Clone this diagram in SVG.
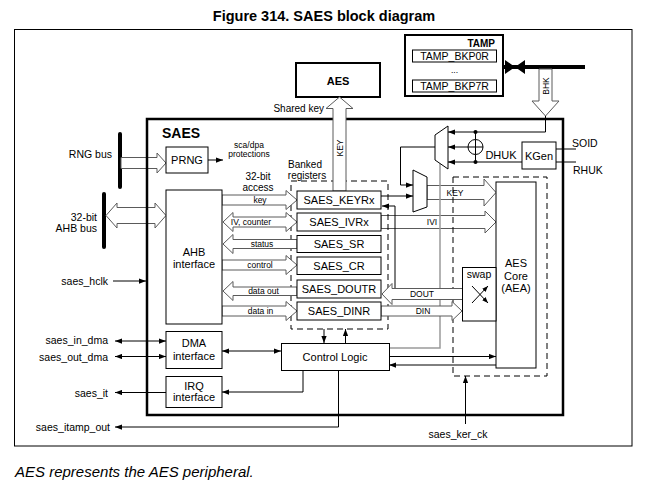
<svg xmlns="http://www.w3.org/2000/svg" width="649" height="489" viewBox="0 0 649 489">
<defs>
<marker id="a" viewBox="0 0 8 6" refX="8" refY="3" markerWidth="7" markerHeight="5.5" orient="auto-start-reverse" markerUnits="userSpaceOnUse"><path d="M0,0L8,3L0,6z" fill="#000"/></marker>
<marker id="a2" viewBox="0 0 8 6" refX="8" refY="3" markerWidth="6" markerHeight="5" orient="auto" markerUnits="userSpaceOnUse"><path d="M0,0L8,3L0,6z" fill="#000"/></marker>
</defs>
<style>
text{font-family:"Liberation Sans",Arial,sans-serif;fill:#000}
.b{fill:#fff;stroke:#000;stroke-width:1}
.tk{fill:#fff;stroke:#000;stroke-width:2}
.h{fill:#fff;stroke:#5a5a5a;stroke-width:1}
.l{fill:none;stroke:#000;stroke-width:1}
.g{fill:none;stroke:#9a9a9a;stroke-width:1.5}
.d{fill:none;stroke:#000;stroke-width:1;stroke-dasharray:6,4}
.bar{stroke:#000;stroke-width:4;stroke-linecap:round}
.s{font-size:8.5px}
.t{font-size:10px}
.m{font-size:10.5px}
.r{font-size:11px}
.c{text-anchor:middle}
.e{text-anchor:end}
.bd{font-weight:bold}
</style>

<text x="324" y="21" class="c bd" style="font-size:14.5px">Figure 314. SAES block diagram</text>
<rect x="14.5" y="29.5" width="617.5" height="416.5" fill="none" stroke="#000" stroke-width="1"/>

<g id="tamp">
<rect x="405" y="35" width="98" height="61" class="tk"/>
<text x="495" y="46.5" class="e bd t">TAMP</text>
<rect x="412.5" y="50" width="84" height="12" class="b"/>
<text x="454.5" y="59.5" class="c m">TAMP_BKP0R</text>
<text x="454.5" y="73" class="c s">...</text>
<rect x="412.5" y="80" width="84" height="12" class="b"/>
<text x="454.5" y="89.5" class="c m">TAMP_BKP7R</text>
</g>

<g id="aes">
<rect x="296" y="63" width="84" height="34" class="tk"/>
<text x="338" y="85" class="c bd r">AES</text>
</g>

<g id="buses">
<line x1="503" y1="67" x2="585" y2="67" stroke="#000" stroke-width="4"/>
<path d="M505,60L515,67L505,74z M525,60L515,67L525,74z" fill="#000"/>
<line x1="120" y1="134" x2="120" y2="187" class="bar"/>
<line x1="104" y1="194" x2="104" y2="247" class="bar"/>
</g>

<g id="connectors">
<polygon class="h" points="539,69 552,69 552,101 559,101 545.5,116 532,101 539,101"/>
<text transform="translate(548.5,86) rotate(-90)" class="c s">BHK</text>
<polygon class="h" points="121,157.5 157,157.5 157,153 166,163 157,173 157,168.5 121,168.5"/>
<polygon class="h" points="106,215.5 117,203 117,207.5 155,207.5 155,203 166,215.5 155,228 155,223.5 117,223.5 117,228"/>
<polygon class="h" points="427,185.5 484,185.5 484,179 496,192.5 484,206 484,199.5 427,199.5"/>
<text x="455" y="195.5" class="c s">KEY</text>
<polygon class="h" points="381,215.5 485,215.5 485,211 496,222 485,233 485,228.5 381,228.5"/>
<text x="432" y="225" class="c s">IVI</text>
</g>

<g id="saes">
<rect x="147" y="119" width="416" height="296" fill="none" stroke="#000" stroke-width="2.5"/>
<text x="162" y="138" class="bd" style="font-size:14px">SAES</text>
</g>

<g id="banked">
<rect x="291" y="181" width="97" height="148" class="d"/>
<text x="305" y="168" class="c t">Banked</text>
<text x="307" y="179" class="c t">registers</text>
</g>
<g id="aes-dashed">
<rect x="453" y="177" width="94" height="199" class="d"/>
</g>

<g id="lines">
<polyline class="g" points="389,348 440,348 440,163.5"/>
<polyline class="l" points="545.5,116 545.5,132 448,132" marker-end="url(#a)"/>
<line class="l" x1="468" y1="147" x2="448" y2="147" marker-end="url(#a)"/>
<line class="l" x1="522" y1="162" x2="448" y2="162" marker-end="url(#a)"/>
<line class="l" x1="475.5" y1="132" x2="475.5" y2="162"/>
<circle cx="475.5" cy="132" r="2" fill="#000"/>
<circle cx="475.5" cy="162" r="2" fill="#000"/>
<line class="l" x1="556" y1="149" x2="576" y2="149"/>
<line class="l" x1="556" y1="162" x2="576" y2="162"/>
<polyline class="l" points="435,147 400.5,147 400.5,185 413,185" marker-end="url(#a)"/>
<line class="l" x1="381" y1="196" x2="413" y2="196" marker-end="url(#a)"/>
<polyline class="l" points="395,288 395,206 382,206" marker-end="url(#a)"/>
<line class="l" x1="208" y1="160" x2="223" y2="160" marker-end="url(#a)"/>
<line class="l" x1="113" y1="281" x2="146" y2="281" marker-end="url(#a)"/>
<line class="l" x1="324" y1="329" x2="324" y2="343" marker-end="url(#a)"/>
<line class="l" x1="345.5" y1="343" x2="345.5" y2="329" marker-end="url(#a)"/>
<line class="l" x1="389" y1="356.5" x2="496" y2="356.5" marker-end="url(#a)"/>
<line class="l" x1="496" y1="365" x2="389" y2="365" marker-end="url(#a)"/>
<line class="l" x1="222" y1="351" x2="281" y2="351" marker-start="url(#a)" marker-end="url(#a)"/>
<polyline class="l" points="303,370 303,392 222,392" marker-end="url(#a)"/>
<polyline class="l" points="338.5,370 338.5,427 115,427" marker-end="url(#a)"/>
<line class="l" x1="465.5" y1="424" x2="465.5" y2="376" marker-end="url(#a)"/>
<line class="l" x1="115" y1="341" x2="166" y2="341" marker-start="url(#a)" marker-end="url(#a)"/>
<line class="l" x1="115" y1="356.5" x2="166" y2="356.5" marker-start="url(#a)" marker-end="url(#a)"/>
<line class="l" x1="166" y1="392.5" x2="115" y2="392.5" marker-end="url(#a)"/>
</g>

<g id="reg-arrows">
<polygon class="h" points="222,195 286,195 286,190.5 297,200 286,209.5 286,205 222,205"/>
<polygon class="h" points="223,222 233,212.5 233,217 286,217 286,212.5 297,222 286,231.5 286,227 233,227 233,231.5"/>
<polygon class="h" points="223,244 233,234.5 233,239.5 297,239.5 297,248.5 233,248.5 233,253.5"/>
<polygon class="h" points="222,260 286,260 286,255.5 297,265 286,274.5 286,270 222,270"/>
<polygon class="h" points="223,291 233,281.5 233,287 297,287 297,295.5 233,295.5 233,300.5"/>
<polygon class="h" points="222,306 286,306 286,301.5 297,311 286,320.5 286,316 222,316"/>
<text x="260" y="203" class="c s">key</text>
<text x="251" y="225" class="c s">IV, counter</text>
<text x="262" y="247" class="c s">status</text>
<text x="260" y="268" class="c s">control</text>
<text x="263.5" y="294" class="c s">data out</text>
<text x="260.5" y="314" class="c s">data in</text>
<text x="258" y="180" class="c t">32-bit</text>
<text x="258" y="190.5" class="c t">access</text>
<polygon class="h" points="333,191 333,108.5 326,108.5 339.5,97 353,108.5 346,108.5 346,191"/>
<text transform="translate(342.5,148) rotate(-90)" class="c s">KEY</text>
<text x="324" y="111.5" class="e t">Shared key</text>
<polygon class="h" points="382,294 392,283.5 392,288.5 462.5,288.5 462.5,299.5 392,299.5 392,304.5"/>
<text x="422" y="297" class="c s">DOUT</text>
<polygon class="h" points="381,306 452,306 452,301.5 462,311 452,320.5 452,316 381,316"/>
<text x="423" y="314" class="c s">DIN</text>
</g>

<g id="prng">
<rect x="166" y="147" width="42" height="26" class="b"/>
<text x="187" y="164" class="c r">PRNG</text>
<text x="249" y="148" class="c s">sca/dpa</text>
<text x="249" y="157" class="c s">protections</text>
</g>

<g id="ahb-if">
<rect x="166" y="190" width="56" height="134" class="b"/>
<text x="194" y="256" class="c r">AHB</text>
<text x="194" y="267.5" class="c r">interface</text>
</g>

<g id="saes-keyrx"><rect x="297" y="191" width="84" height="18" class="b"/><text x="339" y="204" class="c r">SAES_KEYRx</text></g>
<g id="saes-ivrx"><rect x="297" y="213" width="84" height="18" class="b"/><text x="339" y="226" class="c r">SAES_IVRx</text></g>
<g id="saes-sr"><rect x="297" y="235.5" width="84" height="17" class="b"/><text x="339" y="248" class="c r">SAES_SR</text></g>
<g id="saes-cr"><rect x="297" y="257" width="84" height="17.5" class="b"/><text x="339" y="270" class="c r">SAES_CR</text></g>
<g id="saes-doutr"><rect x="297" y="280" width="84" height="18" class="b"/><text x="339" y="293" class="c r">SAES_DOUTR</text></g>
<g id="saes-dinr"><rect x="297" y="302" width="84" height="18" class="b"/><text x="339" y="315" class="c r">SAES_DINR</text></g>

<g id="mux1"><polygon points="435,135 448,126 448,169 435,160" class="b"/></g>
<g id="mux2"><polygon points="413,170 427,177 427,207 413,212" class="b"/></g>
<g id="xor">
<circle cx="475.5" cy="147" r="7.5" class="b"/>
<line class="l" x1="468" y1="147" x2="483" y2="147"/>
<line class="l" x1="475.5" y1="139.5" x2="475.5" y2="154.5"/>
<text x="501" y="159" class="c r">DHUK</text>
</g>
<g id="kgen">
<rect x="522" y="142" width="34" height="27" class="b"/>
<text x="539" y="160" class="c r">KGen</text>
<text x="572" y="147" class="m">SOID</text>
<text x="573" y="174" class="m">RHUK</text>
</g>

<g id="aes-core">
<rect x="496" y="182" width="40" height="186" class="b"/>
<text x="516" y="266.5" class="c r">AES</text>
<text x="516" y="279.5" class="c r">Core</text>
<text x="516" y="291.5" class="c r">(AEA)</text>
</g>
<g id="swap">
<rect x="462.5" y="267.5" width="33.5" height="53.5" class="b"/>
<text x="479" y="278" class="c m">swap</text>
<line class="l" x1="472" y1="303" x2="488" y2="286" marker-end="url(#a2)"/>
<line class="l" x1="472" y1="286" x2="488" y2="303" marker-end="url(#a2)"/>
</g>

<g id="control">
<rect x="281.5" y="343.5" width="108" height="27" class="b"/>
<text x="335" y="361" class="c r">Control Logic</text>
</g>
<g id="dma">
<rect x="166" y="331.5" width="56" height="37" class="b"/>
<text x="194" y="347" class="c r">DMA</text>
<text x="194" y="359.5" class="c r">interface</text>
</g>
<g id="irq">
<rect x="166" y="376.5" width="56" height="31" class="b"/>
<text x="194" y="389.5" class="c r">IRQ</text>
<text x="194" y="401" class="c r">interface</text>
</g>

<g id="labels">
<text x="112" y="158" class="e m">RNG bus</text>
<text x="97" y="221" class="e m">32-bit</text>
<text x="97" y="232" class="e m">AHB bus</text>
<text x="108" y="284.5" class="e m">saes_hclk</text>
<text x="108" y="344" class="e m">saes_in_dma</text>
<text x="108" y="361" class="e m">saes_out_dma</text>
<text x="108" y="396.5" class="e m">saes_it</text>
<text x="110" y="431" class="e m">saes_itamp_out</text>
<text x="458" y="438" class="c m">saes_ker_ck</text>
</g>

<text x="15" y="477" style="font-size:15px;font-style:italic">AES represents the AES peripheral.</text>
</svg>
